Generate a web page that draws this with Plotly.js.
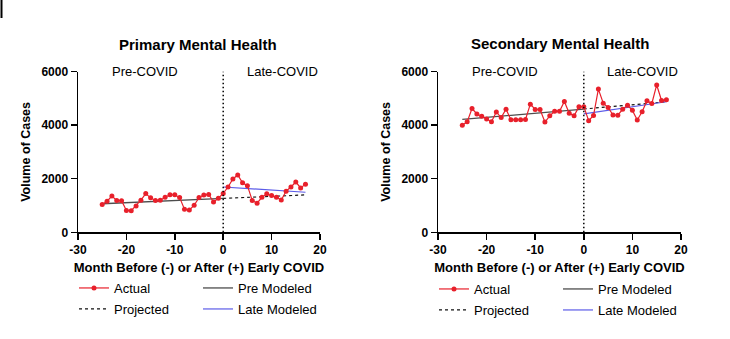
<!DOCTYPE html>
<html><head><meta charset="utf-8">
<script src="https://cdn.plot.ly/plotly-3.0.1.min.js"></script>
<style>html,body{margin:0;padding:0;background:#fff}#chart{width:730px;height:339px}</style>
</head><body><div id="chart"></div>
<script>
// ---- data ----
const months = [-25,-24,-23,-22,-21,-20,-19,-18,-17,-16,-15,-14,-13,-12,-11,-10,-9,-8,-7,-6,-5,-4,-3,-2,-1,0,1,2,3,4,5,6,7,8,9,10,11,12,13,14,15,16,17];
const primaryActual = [1035,1160,1350,1190,1180,815,805,985,1200,1445,1285,1190,1200,1310,1400,1400,1295,862,830,1010,1295,1395,1415,1132,1272,1450,1690,1988,2138,1846,1740,1190,1085,1306,1436,1372,1306,1207,1535,1690,1877,1655,1797];
const secondaryActual = [3997,4121,4619,4415,4330,4227,4128,4490,4282,4595,4200,4200,4200,4208,4782,4582,4582,4115,4345,4518,4515,4880,4440,4345,4688,4688,4165,4358,5343,4819,4657,4377,4370,4590,4738,4550,4190,4495,4912,4806,5498,4918,4943];
const preMonths = [-25, 0];
const lateMonths = [0, 17];
const primaryPre = [1065, 1265];
const primaryProjected = [1265, 1395];
const primaryLate = [1690, 1495];
const secondaryPre = [4210, 4595];
const secondaryProjected = [4600, 4870];
const secondaryLate = [4420, 4870];
const xTicks = [-30,-20,-10,0,10,20];
const yTicks = [0,2000,4000,6000];
const panelTitles = ['Primary Mental Health','Secondary Mental Health'];

// ---- layout helpers ----
const W = 730, H = 339;
const px = x => x / W;
const py = y => 1 - y / H;
const FONT = 'Liberation Sans, Arial, sans-serif';
const RED = '#e8202b', GREY = '#4d4d4d', BLUE = '#5c5ce8';

function panel(xa, ya, pre, proj, late, actual, legs) {
  return [
    {x: preMonths, y: pre, xaxis: xa, yaxis: ya, mode: 'lines', name: 'Pre Modeled',
     line: {color: GREY, width: 1.3}, legend: legs[2]},
    {x: lateMonths, y: proj, xaxis: xa, yaxis: ya, mode: 'lines', name: 'Projected',
     line: {color: '#111', width: 1.2, dash: 'dot'}, legend: legs[1]},
    {x: lateMonths, y: late, xaxis: xa, yaxis: ya, mode: 'lines', name: 'Late Modeled',
     line: {color: BLUE, width: 1.2}, legend: legs[3]},
    {x: months, y: actual, xaxis: xa, yaxis: ya, mode: 'lines+markers', name: 'Actual',
     line: {color: RED, width: 1.2}, marker: {color: RED, size: 5}, legend: legs[0]}
  ];
}

const data = [].concat(
  panel('x', 'y', primaryPre, primaryProjected, primaryLate, primaryActual, ['legend', 'legend2', 'legend3', 'legend4']),
  panel('x2', 'y2', secondaryPre, secondaryProjected, secondaryLate, secondaryActual, ['legend5', 'legend6', 'legend7', 'legend8'])
);

function xaxis(dom, anchor) {
  return {domain: dom, anchor: anchor, range: [-30, 20], tickvals: xTicks, ticktext: xTicks.map(String),
    showgrid: false, zeroline: false, showline: true, linecolor: '#000', linewidth: 1.5,
    ticks: 'outside', ticklen: 6, tickwidth: 1.5, tickcolor: '#000',
    tickfont: {family: FONT, size: 12, color: '#000', weight: 'bold'},
    title: {text: 'Month Before (-) or After (+) Early COVID', standoff: 6,
      font: {family: FONT, size: 13, color: '#000', weight: 'bold'}}};
}
function yaxis(dom, anchor) {
  return {domain: dom, anchor: anchor, range: [0, 6000], tickvals: yTicks, ticktext: yTicks.map(String),
    showgrid: false, zeroline: false, showline: true, linecolor: '#000', linewidth: 1.5,
    ticks: 'outside', ticklen: 6, tickwidth: 1.5, tickcolor: '#000',
    tickfont: {family: FONT, size: 12, color: '#000', weight: 'bold'},
    title: {text: 'Volume of Cases', standoff: 8,
      font: {family: FONT, size: 12.5, color: '#000', weight: 'bold'}}};
}
function legend(xpx, ypx) {
  return {x: px(xpx), y: py(ypx), xanchor: 'left', yanchor: 'top', orientation: 'v',
    bgcolor: 'rgba(0,0,0,0)', borderwidth: 0,
    font: {family: FONT, size: 13, color: '#000'}};
}
const yDom = [py(232.3), py(71.5)];
const lineShape = (xref, yref) => ({type: 'line', xref: xref, yref: yref, x0: 0, x1: 0, y0: 0, y1: 6000,
  line: {color: '#000', width: 1.5, dash: '1.5px,2.5px'}});
const ann = (text, x, y, xref, yref, size, bold) => ({text: text, x: x, y: y, xref: xref, yref: yref,
  showarrow: false, xanchor: 'center', yanchor: 'middle',
  font: {family: FONT, size: size, color: '#000', weight: bold ? 'bold' : 'normal'}});

const layout = {
  width: W, height: H, paper_bgcolor: '#fff', plot_bgcolor: '#fff',
  margin: {l: 0, r: 0, t: 0, b: 0, autoexpand: false},
  showlegend: true,
  xaxis: xaxis([px(78), px(320)], 'y'),
  yaxis: yaxis(yDom, 'x'),
  xaxis2: xaxis([px(438), px(681)], 'y2'),
  yaxis2: yaxis(yDom, 'x2'),
  legend: legend(74, 273),
  legend2: legend(74, 294),
  legend3: legend(198, 273),
  legend4: legend(198, 294),
  legend5: legend(434, 274),
  legend6: legend(434, 295),
  legend7: legend(558, 274),
  legend8: legend(558, 295),
  shapes: [lineShape('x', 'y'), lineShape('x2', 'y2'),
    {type: 'line', xref: 'paper', yref: 'paper', x0: px(1.5), x1: px(1.5), y0: py(0), y1: py(18), line: {color: '#000', width: 2}}],
  annotations: [
    ann(panelTitles[0], px(198), py(44), 'paper', 'paper', 15, true),
    ann(panelTitles[1], px(560), py(43.5), 'paper', 'paper', 15, true),
    ann('Pre-COVID', -16.1, 6000, 'x', 'y', 13, false),
    ann('Late-COVID', 12.2, 6000, 'x', 'y', 13, false),
    ann('Pre-COVID', -16.2, 6000, 'x2', 'y2', 13, false),
    ann('Late-COVID', 12.1, 6000, 'x2', 'y2', 13, false)
  ]
};

Plotly.newPlot('chart', data, layout, {staticPlot: true, displayModeBar: false});
</script></body></html>
